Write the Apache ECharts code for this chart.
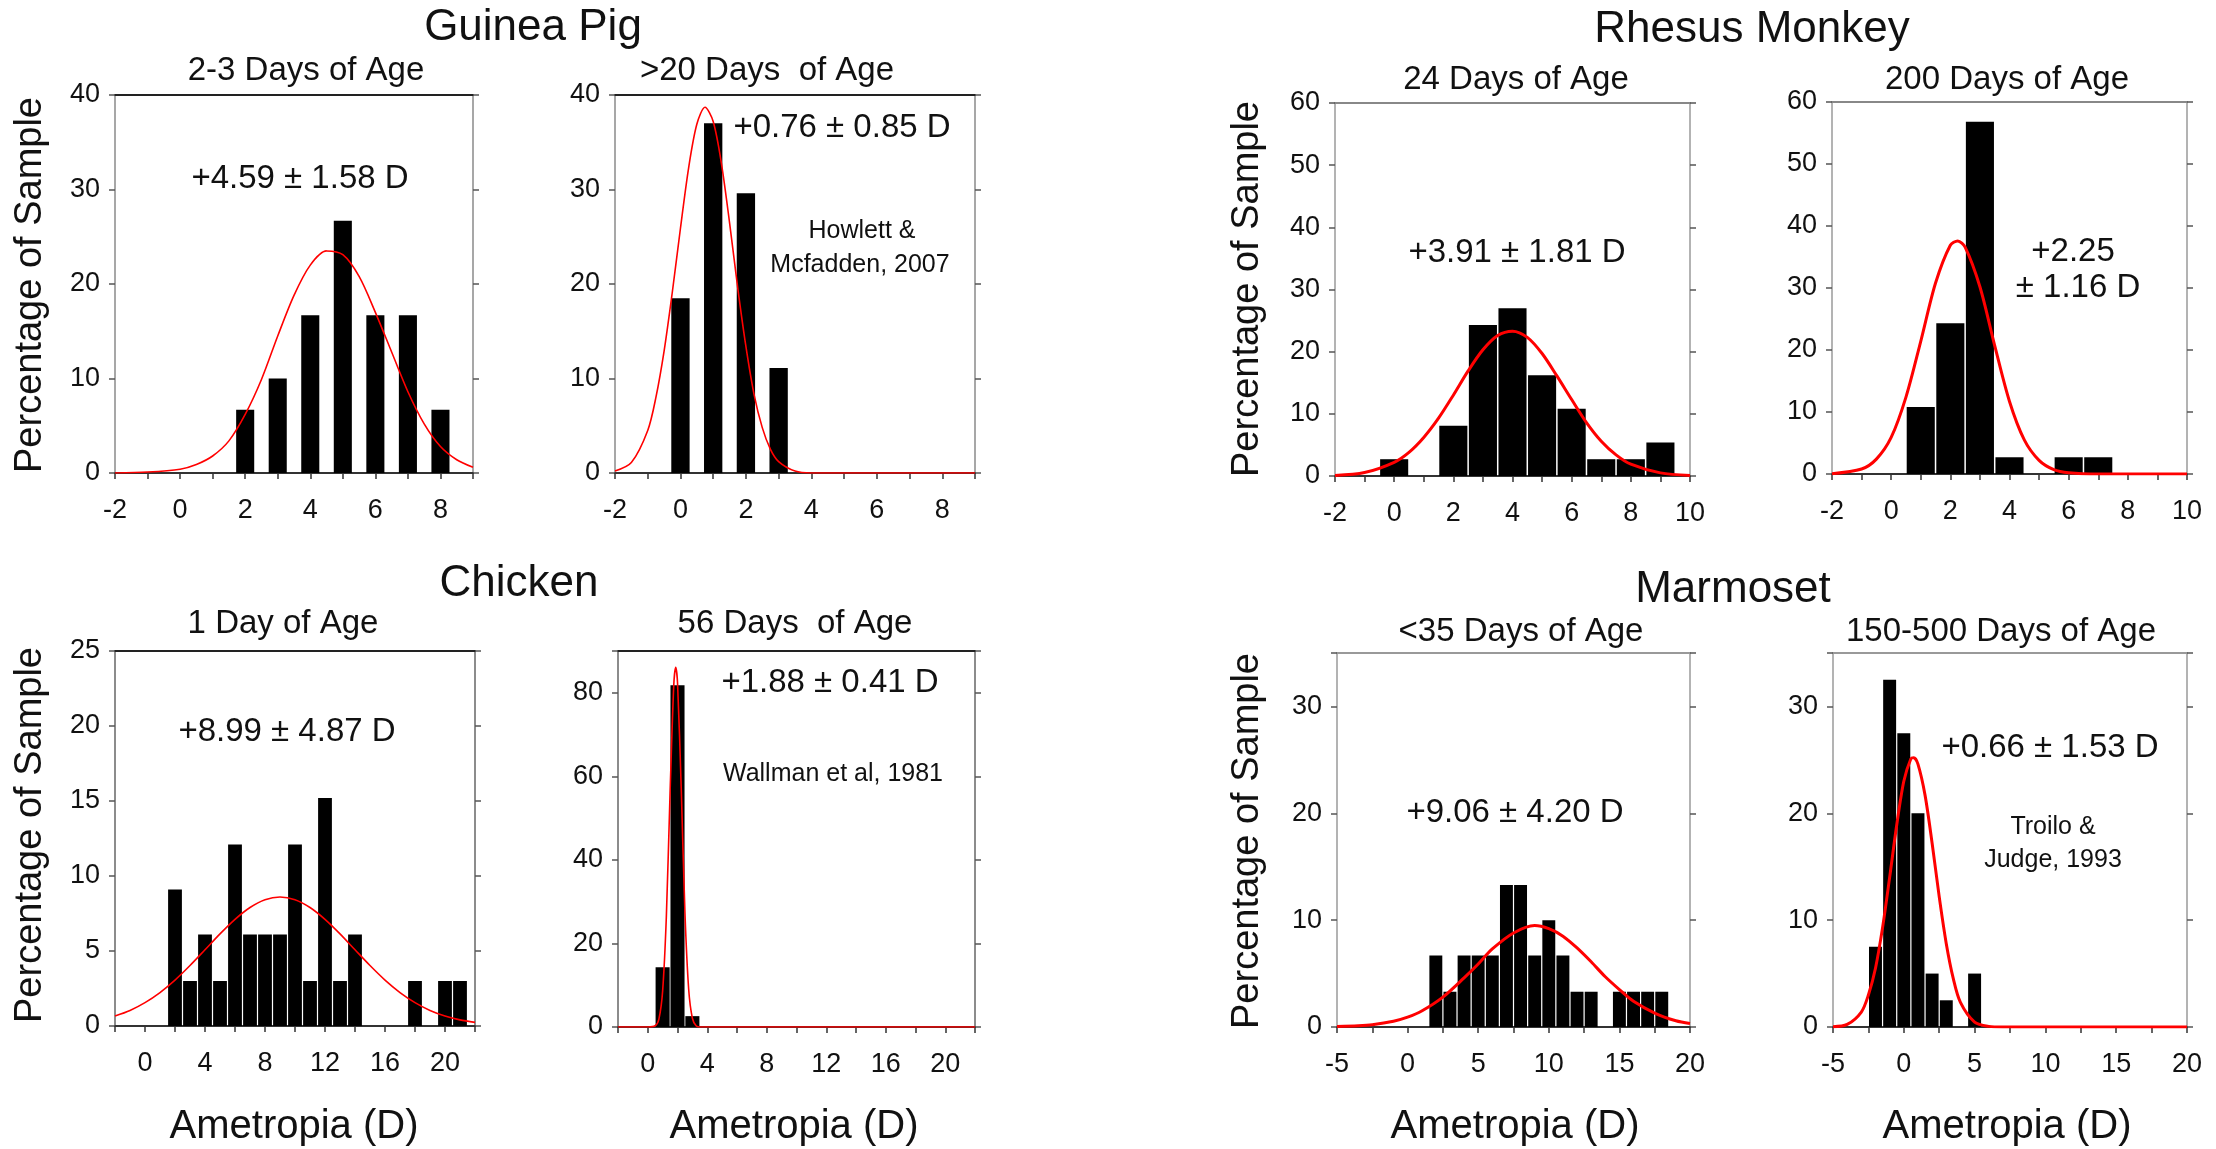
<!DOCTYPE html>
<html>
<head>
<meta charset="utf-8">
<title>Refractive error distributions by species and age</title>
<script src="https://cdn.jsdelivr.net/npm/echarts@6/dist/echarts.min.js"></script>
<style>
  html, body { margin: 0; padding: 0; background: #fff; }
  #chart { width: 2216px; height: 1149px; }
</style>
</head>
<body>
<div id="chart"></div>
<script>
// ---- Guinea pig, 2-3 days of age ----
const gpYoungBins = [2, 3, 4, 5, 6, 7, 8];
const gpYoungPct  = [6.7, 10.0, 16.7, 26.7, 16.7, 16.7, 6.7];
const gpYoungFitX = [-2, -1, 0, 0.5, 1, 1.5, 2, 2.5, 3, 3.5, 4, 4.5, 5, 5.5, 6, 6.5, 7, 7.5, 8, 8.5, 9];
const gpYoungFitY = [0, 0.1, 0.4, 0.9, 1.8, 3.4, 6.2, 9.9, 14.5, 18.8, 22.0, 23.5, 23.1, 20.8, 17.0, 12.8, 8.6, 5.2, 2.8, 1.4, 0.6];

// ---- Guinea pig, >20 days of age ----
const gpOldBins = [0, 1, 2, 3];
const gpOldPct  = [18.5, 37.0, 29.6, 11.1];
const gpOldFitX = [-2, -1.5, -1, -0.75, -0.5, -0.25, 0, 0.25, 0.5, 0.75, 1, 1.25, 1.5, 1.75, 2, 2.25, 2.5, 2.75, 3, 3.5, 4, 9];
const gpOldFitY = [0.2, 1.1, 4.5, 8.0, 12.9, 19.1, 25.9, 32.3, 36.9, 38.7, 37.2, 32.8, 26.5, 19.6, 13.4, 8.3, 4.8, 2.5, 1.2, 0.2, 0, 0];

// ---- Rhesus monkey, 24 days of age ----
const rhYoungBins = [0, 2, 3, 4, 5, 6, 7, 8, 9];
const rhYoungPct  = [2.7, 8.1, 24.3, 27.0, 16.2, 10.8, 2.7, 2.7, 5.4];
const rhYoungFitX = [-2, -1, 0, 0.5, 1, 1.5, 2, 2.5, 3, 3.5, 4, 4.5, 5, 5.5, 6, 6.5, 7, 7.5, 8, 9, 10];
const rhYoungFitY = [0.1, 0.55, 2.2, 3.8, 6.2, 9.3, 13.0, 16.9, 20.3, 22.6, 23.3, 22.3, 19.7, 16.1, 12.3, 8.6, 5.6, 3.4, 1.9, 0.5, 0.1];

// ---- Rhesus monkey, 200 days of age ----
const rhOldBins = [1, 2, 3, 4, 6, 7];
const rhOldPct  = [10.8, 24.3, 56.8, 2.7, 2.7, 2.7];
const rhOldFitX = [-2, -1, -0.5, 0, 0.5, 1, 1.5, 2, 2.25, 2.5, 3, 3.5, 4, 4.5, 5, 5.5, 6, 7, 10];
const rhOldFitY = [0.05, 0.8, 2.4, 5.9, 12.4, 21.4, 30.8, 36.9, 37.6, 36.6, 30.2, 20.7, 11.7, 5.5, 2.2, 0.7, 0.2, 0, 0];

// ---- Chicken, 1 day of age ----
const chYoungBins = [2, 3, 4, 5, 6, 7, 8, 9, 10, 11, 12, 13, 14, 18, 20, 21];
const chYoungPct  = [9.1, 3.0, 6.1, 3.0, 12.1, 6.1, 6.1, 6.1, 12.1, 3.0, 15.2, 3.0, 6.1, 3.0, 3.0, 3.0];
const chYoungFitX = [-2, -1, 0, 1, 2, 3, 4, 5, 6, 7, 8, 9, 10, 11, 12, 13, 14, 15, 16, 17, 18, 19, 20, 21, 22];
const chYoungFitY = [0.67, 1.04, 1.56, 2.23, 3.06, 4.03, 5.08, 6.14, 7.11, 7.90, 8.42, 8.6, 8.42, 7.90, 7.11, 6.14, 5.08, 4.03, 3.06, 2.23, 1.56, 1.04, 0.67, 0.41, 0.24];

// ---- Chicken, 56 days of age ----
const chOldBins = [1, 2, 3];
const chOldPct  = [14.3, 81.8, 2.6];
const chOldFitX = [-2, 0, 0.5, 0.75, 1, 1.25, 1.5, 1.75, 1.88, 2, 2.25, 2.5, 2.75, 3, 3.25, 3.5, 22];
const chOldFitY = [0, 0, 0.3, 1.9, 8.6, 26.4, 56.0, 81.9, 86.1, 82.5, 57.3, 27.4, 9.1, 2.1, 0.3, 0, 0];

// ---- Marmoset, <35 days of age ----
const maYoungBins = [2, 3, 4, 5, 6, 7, 8, 9, 10, 11, 12, 13, 15, 16, 17, 18];
const maYoungPct  = [6.7, 3.3, 6.7, 6.7, 6.7, 13.3, 13.3, 6.7, 10.0, 6.7, 3.3, 3.3, 3.3, 3.3, 3.3, 3.3];
const maYoungFitX = [-5, -3.5, -2.5, -1, 0, 1, 2.5, 4, 5, 6, 7.5, 9, 10, 11, 12, 13, 14, 15, 16, 17.5, 19, 20];
const maYoungFitY = [0.04, 0.11, 0.21, 0.54, 0.92, 1.5, 2.8, 4.6, 5.9, 7.3, 8.8, 9.5, 9.2, 8.5, 7.4, 6.1, 4.7, 3.5, 2.4, 1.3, 0.58, 0.32];

// ---- Marmoset, 150-500 days of age ----
const maOldBins = [-2, -1, 0, 1, 2, 3, 5];
const maOldPct  = [7.5, 32.5, 27.5, 20.0, 5.0, 2.5, 5.0];
const maOldFitX = [-5, -4, -3, -2.5, -2, -1.5, -1, -0.5, 0, 0.5, 0.7, 1, 1.5, 2, 2.5, 3, 3.5, 4, 5, 6, 7, 20];
const maOldFitY = [0.03, 0.24, 1.4, 3.0, 5.5, 9.3, 14.0, 18.9, 23.0, 25.1, 25.2, 24.6, 21.7, 17.2, 12.2, 7.8, 4.5, 2.3, 0.45, 0.06, 0, 0];

// Axis ranges: [min, max, tick step, label step]
const gpXRange = [-2, 9, 1, 2];
const gpYRange = [0, 40, 10, 10];
const rhXRange = [-2, 10, 1, 2];
const rhYRange = [0, 60, 10, 10];
const chXRange = [-2, 22, 2, 4];
const chYoungYRange = [0, 25, 5, 5];
const chOldYRange = [0, 90, 20, 20];
const maXRange = [-5, 20, 2.5, 5];
const maYRange = [0, 35, 10, 10];

const FONT = '"Liberation Sans", Arial, sans-serif';
const NARROW = '"Liberation Sans Narrow", "Liberation Sans", Arial, sans-serif';

// Panel layout: grid box [left, top, width, height] in px; frame colours for top/side edges
const panels = [
  { box: [115, 95, 358, 378],  x: gpXRange, y: gpYRange, bins: gpYoungBins, pct: gpYoungPct, fx: gpYoungFitX, fy: gpYoungFitY, frac: 0.555, gap: 0, lw: 1.6, topC: '#222', sideC: '#8a8a8a' },
  { box: [615, 95, 360, 378],  x: gpXRange, y: gpYRange, bins: gpOldBins,   pct: gpOldPct,   fx: gpOldFitX,   fy: gpOldFitY,   frac: 0.56,  gap: 0, lw: 1.6, topC: '#222', sideC: '#8a8a8a' },
  { box: [1335, 103, 355, 373], x: rhXRange, y: rhYRange, bins: rhYoungBins, pct: rhYoungPct, fx: rhYoungFitX, fy: rhYoungFitY, frac: 1, gap: 1.5, lw: 3, topC: '#888', sideC: '#9a9a9a' },
  { box: [1832, 102, 355, 372], x: rhXRange, y: rhYRange, bins: rhOldBins,   pct: rhOldPct,   fx: rhOldFitX,   fy: rhOldFitY,   frac: 1, gap: 1.5, lw: 3, topC: '#888', sideC: '#9a9a9a' },
  { box: [115, 651, 360, 375],  x: chXRange, y: chYoungYRange, bins: chYoungBins, pct: chYoungPct, fx: chYoungFitX, fy: chYoungFitY, frac: 1, gap: 1.2, lw: 1.6, topC: '#222', sideC: '#666' },
  { box: [618, 651, 357, 376],  x: chXRange, y: chOldYRange,   bins: chOldBins,   pct: chOldPct,   fx: chOldFitX,   fy: chOldFitY,   frac: 1, gap: 0.8, lw: 1.6, topC: '#222', sideC: '#666' },
  { box: [1337, 653, 353, 374], x: maXRange, y: maYRange, bins: maYoungBins, pct: maYoungPct, fx: maYoungFitX, fy: maYoungFitY, frac: 1, gap: 1.2, lw: 3, topC: '#999', sideC: '#9a9a9a' },
  { box: [1833, 653, 354, 374], x: maXRange, y: maYRange, bins: maOldBins,   pct: maOldPct,   fx: maOldFitX,   fy: maOldFitY,   frac: 1, gap: 1.2, lw: 3, topC: '#999', sideC: '#9a9a9a' }
];

function onStep(v, step) {
  const k = Math.round(v / step);
  return Math.abs(k * step - v) < 1e-6;
}

const grids = [], xAxes = [], yAxes = [], series = [];

panels.forEach((p, gi) => {
  const [left, top, width, height] = p.box;
  grids.push({ left, top, width, height, containLabel: false });

  const [xmin, xmax, xstep, xlab] = p.x;
  const [ymin, ymax, ystep, ylab] = p.y;

  xAxes.push({
    type: 'value', gridIndex: gi, position: 'bottom',
    min: xmin, max: xmax, interval: xstep,
    axisLine: { show: true, onZero: false, lineStyle: { color: '#333', width: 2 } },
    axisTick: { show: true, inside: false, length: 6, lineStyle: { color: '#333', width: 1.5 } },
    axisLabel: {
      formatter: v => onStep(v, xlab) ? String(v) : '',
      color: '#111', fontSize: 27, fontFamily: NARROW, margin: 24
    },
    splitLine: { show: false }
  });
  xAxes.push({
    type: 'value', gridIndex: gi, position: 'top',
    min: xmin, max: xmax, interval: xstep,
    axisLine: { show: true, onZero: false, lineStyle: { color: p.topC, width: 2 } },
    axisTick: { show: false }, axisLabel: { show: false }, splitLine: { show: false }
  });
  const yBase = {
    type: 'value', gridIndex: gi,
    min: ymin, max: ymax, interval: ystep,
    axisLine: { show: true, onZero: false, lineStyle: { color: p.sideC, width: 1.5 } },
    axisTick: { show: true, inside: false, length: 6, lineStyle: { color: '#555', width: 1.5 } },
    splitLine: { show: false }
  };
  yAxes.push(Object.assign({}, yBase, {
    position: 'left',
    axisLabel: {
      formatter: v => onStep(v, ylab) ? String(v) : '',
      color: '#111', fontSize: 27, fontFamily: NARROW, margin: 15
    }
  }));
  yAxes.push(Object.assign({}, yBase, { position: 'right', axisLabel: { show: false } }));

  const unitPx = width / (xmax - xmin);
  series.push({
    type: 'bar',
    xAxisIndex: 2 * gi, yAxisIndex: 2 * gi,
    data: p.bins.map((b, i) => [b, p.pct[i]]),
    barWidth: unitPx * p.frac - p.gap,
    itemStyle: { color: '#000' },
    silent: true, z: 2
  });
  series.push({
    type: 'line',
    xAxisIndex: 2 * gi, yAxisIndex: 2 * gi,
    data: p.fx.map((x, i) => [x, p.fy[i]]),
    smooth: 0.3, showSymbol: false, symbol: 'none',
    lineStyle: { color: '#ff0000', width: p.lw },
    silent: true, z: 3
  });
});

// Text blocks: [text, x, y]
const mainTitles = [
  ['Guinea Pig', 533, 28], ['Rhesus Monkey', 1752, 30],
  ['Chicken', 519, 584], ['Marmoset', 1733, 590]
];
const ageTitles = [
  ['2-3 Days of Age', 306, 71], ['>20 Days  of Age', 767, 71],
  ['24 Days of Age', 1516, 80], ['200 Days of Age', 2007, 80],
  ['1 Day of Age', 283, 624], ['56 Days  of Age', 795, 624],
  ['<35 Days of Age', 1521, 632], ['150-500 Days of Age', 2001, 632]
];
const statLabels = [
  ['+4.59 \u00B1 1.58 D', 300, 179], ['+0.76 \u00B1 0.85 D', 842, 128],
  ['+3.91 \u00B1 1.81 D', 1517, 253], ['+2.25', 2073, 252], ['\u00B1 1.16 D', 2078, 288],
  ['+8.99 \u00B1 4.87 D', 287, 732], ['+1.88 \u00B1 0.41 D', 830, 683],
  ['+9.06 \u00B1 4.20 D', 1515, 813], ['+0.66 \u00B1 1.53 D', 2050, 748]
];
const citations = [
  ['Howlett &', 862, 231], ['Mcfadden, 2007', 860, 265],
  ['Wallman et al, 1981', 833, 774],
  ['Troilo &', 2053, 827], ['Judge, 1993', 2053, 860]
];
const xTitles = [[294, 1127], [794, 1127], [1515, 1127], [2007, 1127]];
const yTitles = [[31, 285], [1248, 289], [31, 835], [1248, 841]];

function textEl(t, x, y, size, rotation) {
  return {
    type: 'text', x, y, rotation: rotation || 0, silent: true, z: 10,
    style: { text: t, fill: '#111', font: size + 'px ' + FONT, align: 'center', verticalAlign: 'middle' }
  };
}

const graphics = [];
mainTitles.forEach(([t, x, y]) => graphics.push(textEl(t, x, y, 44)));
ageTitles.forEach(([t, x, y]) => graphics.push(textEl(t, x, y, 33)));
statLabels.forEach(([t, x, y]) => graphics.push(textEl(t, x, y, 33)));
citations.forEach(([t, x, y]) => graphics.push(textEl(t, x, y, 25)));
xTitles.forEach(([x, y]) => graphics.push(textEl('Ametropia (D)', x, y, 40)));
yTitles.forEach(([x, y]) => graphics.push(textEl('Percentage of Sample', x, y, 38, Math.PI / 2)));

const chart = echarts.init(document.getElementById('chart'), null, { renderer: 'canvas' });
chart.setOption({
  backgroundColor: '#fff',
  animation: false,
  grid: grids,
  xAxis: xAxes,
  yAxis: yAxes,
  series: series,
  graphic: { elements: graphics }
});
</script>
</body>
</html>
